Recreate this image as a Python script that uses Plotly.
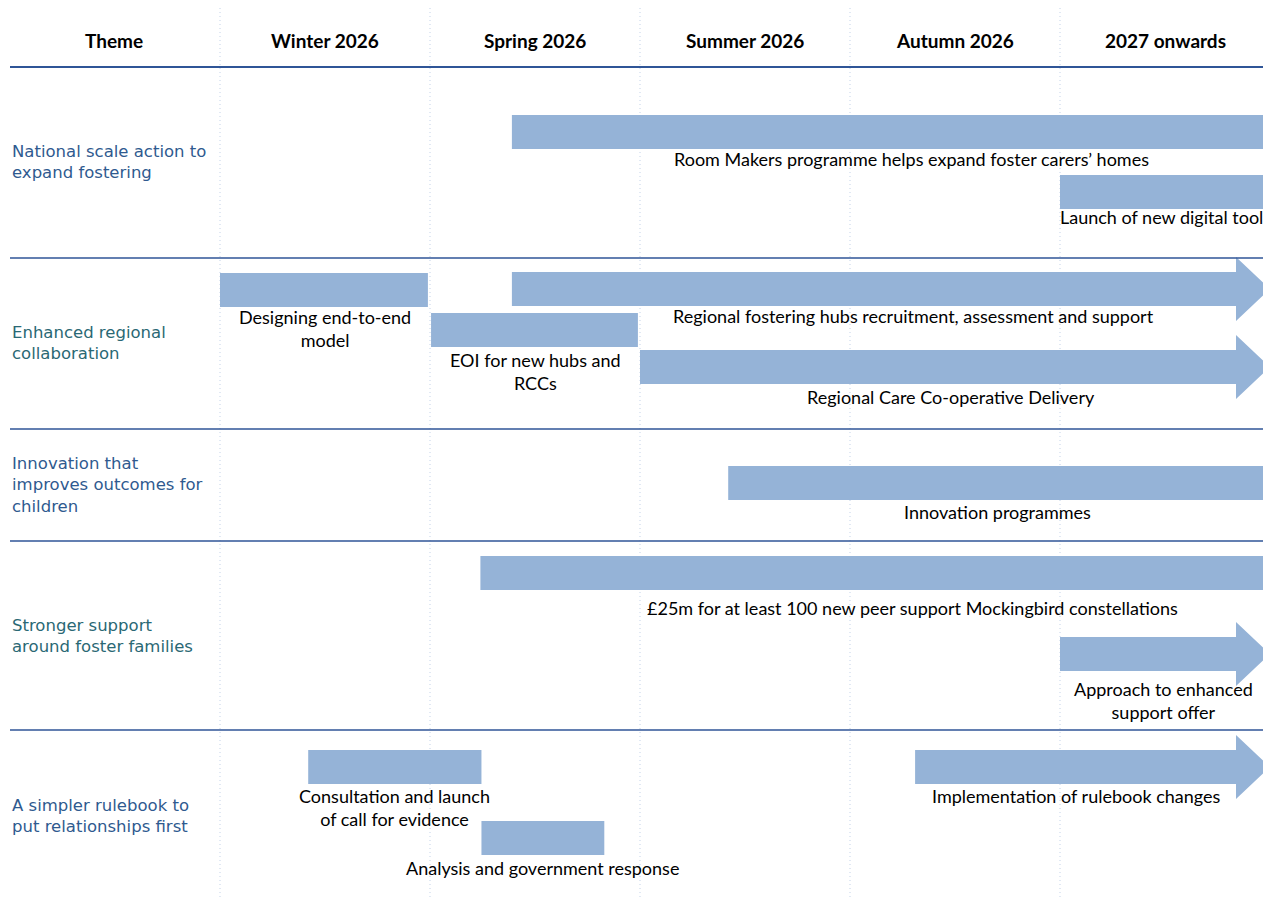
import plotly.graph_objects as go

# ---------------- DATA ----------------
periods = ["Winter 2026", "Spring 2026", "Summer 2026", "Autumn 2026", "2027 onwards"]
themes = [
    "National scale action to<br>expand fostering",
    "Enhanced regional<br>collaboration",
    "Innovation that<br>improves outcomes for<br>children",
    "Stronger support<br>around foster families",
    "A simpler rulebook to<br>put relationships first",
]
tasks = [
    "Room Makers programme helps expand foster carers\u2019 homes",
    "Launch of new digital tools",
    "Designing end-to-end<br>model",
    "Regional fostering hubs recruitment, assessment and support",
    "EOI for new hubs and<br>RCCs",
    "Regional Care Co-operative Delivery",
    "Innovation programmes",
    "\u00a325m for at least 100 new peer support Mockingbird constellations",
    "Approach to enhanced<br>support offer",
    "Consultation and launch<br>of call for evidence",
    "Analysis and government response",
    "Implementation of rulebook changes",
]
task_theme = [0, 0, 1, 1, 1, 1, 2, 3, 3, 4, 4, 4]
# start / end measured in periods (0 = start of Winter 2026)
task_start = [1.39, 4.00, 0.00, 1.39, 1.005, 2.00, 2.42, 1.24, 4.00, 0.42, 1.245, 3.31]
task_end = [5.20, 5.20, 0.99, 5.00, 1.99, 5.00, 5.20, 5.20, 5.00, 1.245, 1.83, 5.00]
task_arrow = [False, False, False, True, False, True, False, False, True, False, False, True]

# ---------------- LAYOUT / STYLE ----------------
W, H = 1263, 898
PX = 210.0          # pixels per period
X0 = 220.0          # pixel of period 0
x_lo, x_hi = -X0 / PX, (W - X0) / PX

bar_color = "#95B3D7"
line_color = "#2F5597"
grid_color = "#C3D2E8"
theme_colors = ["#2F5A8F", "#2A6874", "#2F5A8F", "#2A6874", "#2F5A8F"]

header_y = 40
header_line_y = 67
section_lines_y = [258, 429, 541, 730]
theme_label_y = [162, 343, 485, 636, 816]
task_y = [132, 192, 290, 289, 330, 367, 483, 573, 654, 767, 838, 767]
label_x_px = [911, 1060, 325, 913, 535, 951, 997, 912, 1163, 394, 542, 1076]
label_dy = [0, -2, 0, 0, 3, 3, 2, 8, 8, 2, 3, 2]
label_left = [False, True, False, False, False, False, False, False, False, False, False, False]
half_h = 17
head_half = 32
head_len = 34 / PX

label_font = dict(family="Lato, Carlito, Calibri, sans-serif", size=18, color="#000000")
theme_font_family = "DejaVu Sans, Verdana, sans-serif"

fig = go.Figure()

# bars / arrows
for i, name in enumerate(tasks):
    s, e, yc = task_start[i], task_end[i], task_y[i]
    if task_arrow[i]:
        xs = [s, e - head_len, e - head_len, e, e - head_len, e - head_len, s, s]
        ys = [yc - half_h, yc - half_h, yc - head_half, yc, yc + head_half, yc + half_h, yc + half_h, yc - half_h]
    else:
        xs = [s, e, e, s, s]
        ys = [yc - half_h, yc - half_h, yc + half_h, yc + half_h, yc - half_h]
    fig.add_trace(go.Scatter(
        x=xs, y=ys, mode="lines", fill="toself", fillcolor=bar_color,
        line=dict(width=0, color=bar_color), hoverinfo="skip", showlegend=False,
    ))
    lx = (label_x_px[i] - X0) / PX
    fig.add_annotation(
        x=lx, y=yc + half_h - 3 + label_dy[i], xref="x", yref="y",
        text=name, showarrow=False, xanchor="left" if label_left[i] else "center",
        yanchor="top", align="center", font=label_font, xshift=-2 if label_left[i] else 0,
    )

# vertical dotted grid lines at period boundaries
for k in range(len(periods)):
    fig.add_shape(type="line", x0=k, x1=k, y0=8, y1=H, xref="x", yref="y",
                  line=dict(color=grid_color, width=1, dash="1px,3px"), layer="below")

# horizontal lines
fig.add_shape(type="line", x0=x_lo + 10 / PX, x1=x_hi + 1, y0=header_line_y, y1=header_line_y,
              xref="x", yref="y", line=dict(color=line_color, width=2))
for yy in section_lines_y:
    fig.add_shape(type="line", x0=x_lo + 10 / PX, x1=x_hi + 1, y0=yy, y1=yy,
                  xref="x", yref="y", line=dict(color=line_color, width=1.5))

# headers
header_font = dict(family="Lato, Carlito, Calibri, sans-serif", size=19, color="#000000")
fig.add_annotation(x=(114 - X0) / PX, y=header_y, xref="x", yref="y", text="<b>Theme</b>",
                   showarrow=False, font=header_font)
for k, p in enumerate(periods):
    fig.add_annotation(x=k + 0.5, y=header_y, xref="x", yref="y", text=f"<b>{p}</b>",
                       showarrow=False, font=header_font)

# theme labels
for t, name in enumerate(themes):
    fig.add_annotation(x=x_lo + 10 / PX, y=theme_label_y[t], xref="x", yref="y", text=name,
                       showarrow=False, xanchor="left", yanchor="middle", align="left",
                       font=dict(family=theme_font_family, size=16.5, color=theme_colors[t]))

fig.update_layout(
    width=W, height=H, margin=dict(l=0, r=0, t=0, b=0),
    plot_bgcolor="white", paper_bgcolor="white", hovermode=False,
    xaxis=dict(range=[x_lo, x_hi], visible=False, fixedrange=True),
    yaxis=dict(range=[H, 0], visible=False, fixedrange=True),
)

fig.write_html("out.html", config={"displayModeBar": False},
               post_script="document.body.style.margin='0';document.body.style.overflow='hidden';")
